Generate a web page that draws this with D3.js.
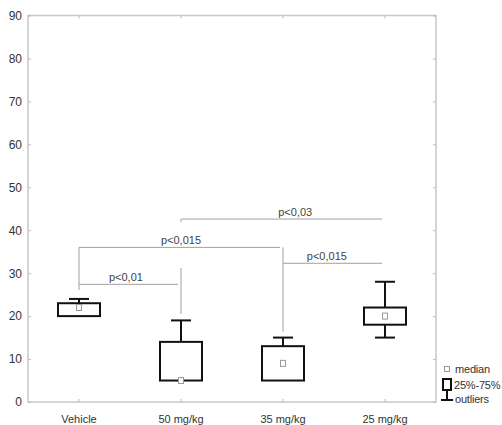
<!DOCTYPE html>
<html><head><meta charset="utf-8">
<script src="https://cdn.jsdelivr.net/npm/d3@7/dist/d3.min.js"></script>
<style>
body{margin:0;background:#fff;}
text{font-family:"Liberation Sans",Arial,sans-serif;}
</style></head>
<body><svg id="c" width="502" height="425"></svg>
<script>
const categories = ["Vehicle","50 mg/kg","35 mg/kg","25 mg/kg"];
const q1 =      [20, 5, 5, 18];
const q3 =      [23, 14, 13, 22];
const medians = [22, 5, 9, 20];
const minVals = [20, 5, 5, 15];
const maxVals = [24, 19, 15, 28];
const yTicks = [0,10,20,30,40,50,60,70,80,90];
// significance brackets: horizontal lines (from category, to category, level)
const hLines = [
  {from:0, to:1, y:27.4, label:"p<0,01", labelAt:0.46},
  {from:0, to:2, y:36, label:"p<0,015", labelAt:0.5},
  {from:2, to:3, y:32.3, label:"p<0,015", labelAt:0.43},
  {from:1, to:3, y:42.6, label:"p<0,03", labelAt:0.56}
];
// vertical connector lines (category, y1, y2)
const vLines = [
  {cat:0, y1:36, y2:26.1},
  {cat:1, y1:31.2, y2:20.5},
  {cat:2, y1:36, y2:16.4},
  {cat:1, y1:42.6, y2:41.9}
];

const svg = d3.select("#c");
const L=28, R=436, T=15.5, B=402;
const y = d3.scaleLinear().domain([0,90]).range([B,T]);
const x = d3.scaleBand().domain(categories).range([L,R]);
const cx = i => x(categories[i]) + x.bandwidth()/2;

// frame
svg.append("rect").attr("x",L).attr("y",T).attr("width",R-L).attr("height",B-T)
  .attr("fill","none").attr("stroke","#c8c8c8").attr("stroke-width",1.5);

// left axis
const yAxis = d3.axisLeft(y).tickValues(yTicks).tickSize(-3).tickPadding(6);
const ga = svg.append("g").attr("transform",`translate(${L},0)`).call(yAxis);
ga.select(".domain").remove();
ga.selectAll(".tick line").attr("stroke","#bbb");
ga.selectAll(".tick text").attr("fill","#333").style("font-size","12px").style("font-family","'Liberation Sans',Arial,sans-serif");
// right ticks
const gr = svg.append("g").attr("transform",`translate(${R},0)`).call(d3.axisRight(y).tickValues(yTicks).tickSize(-3).tickFormat(""));
gr.select(".domain").remove();
gr.selectAll(".tick line").attr("stroke","#bbb");

// bottom axis
const xAxis = d3.axisBottom(x).tickSize(-3).tickPadding(13);
const gb = svg.append("g").attr("transform",`translate(0,${B})`).call(xAxis);
gb.select(".domain").remove();
gb.selectAll(".tick line").attr("stroke","#bbb");
gb.selectAll(".tick text").attr("fill","#333").style("font-size","11px").style("font-family","'Liberation Sans',Arial,sans-serif");
// top ticks
const gt = svg.append("g").attr("transform",`translate(0,${T})`).call(d3.axisTop(x).tickSize(-3).tickFormat(""));
gt.select(".domain").remove();
gt.selectAll(".tick line").attr("stroke","#bbb");

// brackets
svg.selectAll(".hl").data(hLines).enter().append("line")
  .attr("x1",d=>cx(d.from)).attr("x2",d=>cx(d.to)-3)
  .attr("y1",d=>y(d.y)).attr("y2",d=>y(d.y))
  .attr("stroke","#a0a0a0").attr("stroke-width",1);
svg.selectAll(".vl").data(vLines).enter().append("line")
  .attr("x1",d=>cx(d.cat)).attr("x2",d=>cx(d.cat))
  .attr("y1",d=>y(d.y1)).attr("y2",d=>y(d.y2))
  .attr("stroke","#a0a0a0").attr("stroke-width",1);
svg.selectAll(".hlt").data(hLines).enter().append("text")
  .attr("x",d=>cx(d.from)+(cx(d.to)-cx(d.from))*d.labelAt)
  .attr("y",d=>y(d.y)-3)
  .attr("text-anchor","middle").attr("fill","#444").style("font-size","11px")
  .text(d=>d.label);

// boxes
const boxW = 42, capW = 20;
const g = svg.selectAll(".box").data(categories).enter().append("g");
g.append("line").attr("x1",(d,i)=>cx(i)).attr("x2",(d,i)=>cx(i))
  .attr("y1",(d,i)=>y(maxVals[i])).attr("y2",(d,i)=>y(q3[i]))
  .attr("stroke","#111").attr("stroke-width",2);
g.append("line").attr("x1",(d,i)=>cx(i)).attr("x2",(d,i)=>cx(i))
  .attr("y1",(d,i)=>y(minVals[i])).attr("y2",(d,i)=>y(q1[i]))
  .attr("stroke","#111").attr("stroke-width",2);
g.append("line").attr("x1",(d,i)=>cx(i)-capW/2).attr("x2",(d,i)=>cx(i)+capW/2)
  .attr("y1",(d,i)=>y(maxVals[i])).attr("y2",(d,i)=>y(maxVals[i]))
  .attr("stroke","#111").attr("stroke-width",2);
g.filter((d,i)=>minVals[i]<q1[i]).append("line")
  .attr("x1",d=>cx(categories.indexOf(d))-capW/2).attr("x2",d=>cx(categories.indexOf(d))+capW/2)
  .attr("y1",d=>y(minVals[categories.indexOf(d)])).attr("y2",d=>y(minVals[categories.indexOf(d)]))
  .attr("stroke","#111").attr("stroke-width",2);
g.append("rect").attr("x",(d,i)=>cx(i)-boxW/2).attr("width",boxW)
  .attr("y",(d,i)=>y(q3[i])).attr("height",(d,i)=>y(q1[i])-y(q3[i]))
  .attr("fill","none").attr("stroke","#111").attr("stroke-width",2);
g.append("rect").attr("x",(d,i)=>cx(i)-2.5).attr("width",5)
  .attr("y",(d,i)=>y(medians[i])-3).attr("height",6)
  .attr("fill","#fff").attr("stroke","#999").attr("stroke-width",1);

// legend
const lg = svg.append("g").style("font-size","11px").style("letter-spacing","-0.2px");
lg.append("rect").attr("x",444.5).attr("y",366.5).attr("width",5).attr("height",5)
  .attr("fill","#fff").attr("stroke","#999");
lg.append("text").attr("x",455).attr("y",373).attr("fill","#333").text("median");
lg.append("rect").attr("x",443).attr("y",379).attr("width",8).attr("height",11)
  .attr("fill","none").attr("stroke","#111").attr("stroke-width",2);
lg.append("text").attr("x",454).attr("y",389).attr("fill","#333").text("25%-75%");
lg.append("line").attr("x1",447).attr("x2",447).attr("y1",390).attr("y2",400).attr("stroke","#111").attr("stroke-width",2);
lg.append("line").attr("x1",441).attr("x2",453).attr("y1",400).attr("y2",400).attr("stroke","#111").attr("stroke-width",2);
lg.append("text").attr("x",455).attr("y",403).attr("fill","#333").text("outliers");
</script></body></html>
